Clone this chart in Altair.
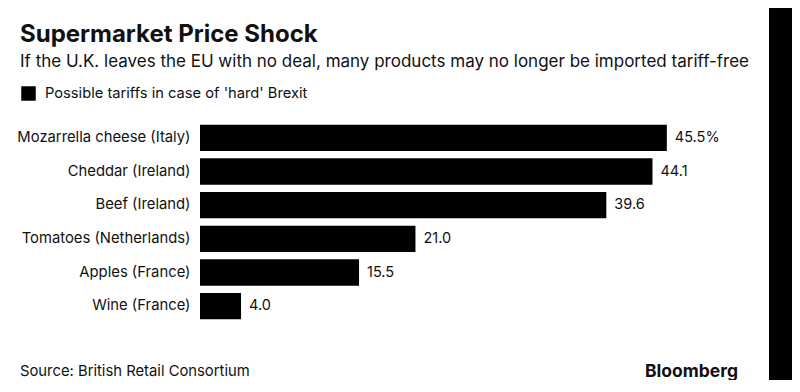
import altair as alt
import pandas as pd

categories = ["Mozarrella cheese (Italy)", "Cheddar (Ireland)", "Beef (Ireland)",
              "Tomatoes (Netherlands)", "Apples (France)", "Wine (France)"]
tariffs = [45.5, 44.1, 39.6, 21.0, 15.5, 4.0]
series_name = "Possible tariffs in case of 'hard' Brexit"

title_text = "Supermarket Price Shock"
subtitle_text = "If the U.K. leaves the EU with no deal, many products may no longer be imported tariff-free"
source_text = "Source: British Retail Consortium"
brand_text = "Bloomberg"

FONT = "Inter"
INK = "#111"

labels = [f"{v:.1f}%" if i == 0 else f"{v:.1f}" for i, v in enumerate(tariffs)]
df = pd.DataFrame({"cat": categories, "val": tariffs, "label": labels,
                   "series": [series_name] * len(categories)})

y_enc = alt.Y("cat:N", sort=categories,
              scale=alt.Scale(paddingInner=0.22, paddingOuter=0.11),
              axis=alt.Axis(title=None, domain=False, ticks=False, labelPadding=10,
                            labelFontSize=14.8, labelColor=INK, labelFont=FONT, labelLimit=0))
x_enc = alt.X("val:Q", scale=alt.Scale(domain=[0, 50]), axis=None)

bars = alt.Chart(df).mark_bar(color="#000").encode(
    x=x_enc, y=y_enc,
    color=alt.Color("series:N", scale=alt.Scale(range=["#000"]),
                    legend=alt.Legend(orient="none", legendX=-179, legendY=-35, title=None,
                                      symbolType="square", symbolSize=210,
                                      symbolStrokeWidth=0, labelFontSize=14.7,
                                      labelFont=FONT, labelColor=INK, labelOffset=9,
                                      labelLimit=500)),
)

values = alt.Chart(df).mark_text(align="left", baseline="middle", dx=8,
                                 fontSize=14.5, font=FONT, color=INK).encode(
    x=x_enc, y=y_enc, text="label:N")


def text_layer(txt, x, y, size, weight="normal", align="left"):
    return alt.Chart(pd.DataFrame({"t": [txt]})).mark_text(
        align=align, baseline="alphabetic", fontSize=size, fontWeight=weight,
        font=FONT, color=INK).encode(text="t:N", x=alt.value(x), y=alt.value(y))


title = text_layer(title_text, -180, -79, 24, "bold")
subtitle = text_layer(subtitle_text, -180, -54, 17)
source = text_layer(source_text, -180, 255, 14.8)
brand = text_layer(brand_text, 538, 255.5, 17.5, "bold", align="right")

band = alt.Chart(pd.DataFrame({"k": [0]})).mark_rect(color="#000").encode(
    x=alt.value(569), x2=alt.value(592), y=alt.value(-113), y2=alt.value(259))

chart = alt.layer(bars, values, title, subtitle, source, brand, band).properties(
    width=513, height=202,
    padding={"left": 192, "top": 113, "right": 79, "bottom": 57},
    autosize=alt.AutoSizeParams(type="none"),
).configure_view(stroke=None)

chart.save("out.html", embed_options={"renderer": "svg", "actions": False})
